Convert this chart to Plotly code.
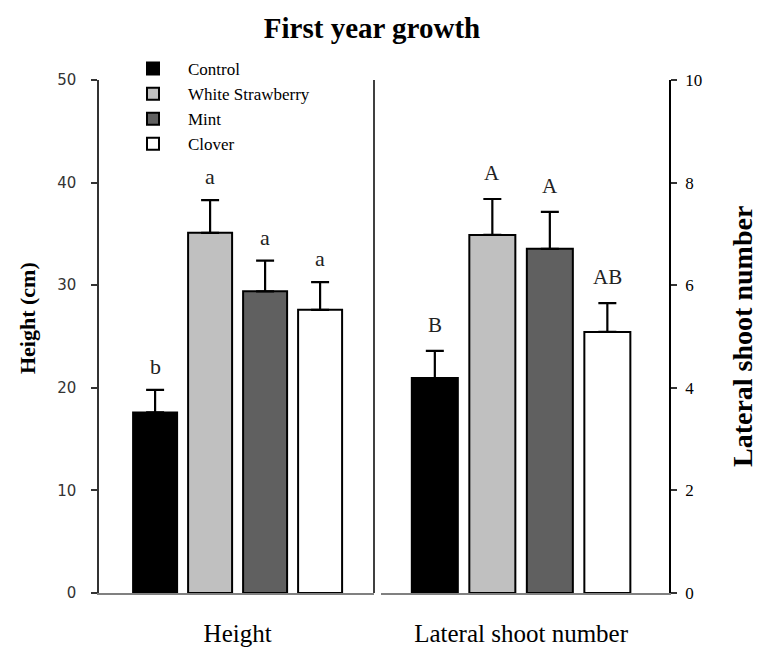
import plotly.graph_objects as go

# Treatments and their summary statistics (mean and standard error)
treatments = ["Control", "White Strawberry", "Mint", "Clover"]
height_mean = [17.6, 35.1, 29.4, 27.6]
height_se = [2.2, 3.2, 3.0, 2.7]
shoot_mean = [4.19, 6.98, 6.71, 5.09]
shoot_se = [0.53, 0.70, 0.72, 0.56]
height_letters = ["b", "a", "a", "a"]
shoot_letters = ["B", "A", "A", "AB"]
panel_labels = ["Height", "Lateral shoot number"]

fills = ["#000000", "#c0c0c0", "#606060", "#ffffff"]
SERIF = "Liberation Serif"
SANS = "DejaVu Sans"

fig = go.Figure()

for i, name in enumerate(treatments):
    common = dict(
        name=name,
        marker=dict(color=fills[i], line=dict(color="#000000", width=2)),
    )
    fig.add_trace(go.Bar(
        x=[panel_labels[0]], y=[height_mean[i]],
        error_y=dict(type="data", symmetric=False, array=[height_se[i]], arrayminus=[0],
                     color="#000000", thickness=2.2, width=9),
        xaxis="x", yaxis="y", showlegend=True, legendgroup=name, **common))
    fig.add_trace(go.Bar(
        x=[panel_labels[1]], y=[shoot_mean[i]],
        error_y=dict(type="data", symmetric=False, array=[shoot_se[i]], arrayminus=[0],
                     color="#000000", thickness=2.2, width=9),
        xaxis="x2", yaxis="y2", showlegend=False, legendgroup=name, **common))

# Significance letters above each error bar, placed at the grouped-bar offsets
bargap = 0.0
n = len(treatments)
slot = (1 - bargap) / n
annotations = []
for i in range(n):
    off = (i - (n - 1) / 2) * slot
    annotations.append(dict(
        x=off, y=height_mean[i] + height_se[i], xref="x", yref="y",
        text=height_letters[i], showarrow=False, yanchor="bottom", yshift=9,
        font=dict(family=SERIF, size=22, color="#222222")))
    annotations.append(dict(
        x=off, y=shoot_mean[i] + shoot_se[i], xref="x2", yref="y2",
        text=shoot_letters[i], showarrow=False, yanchor="bottom", yshift=12,
        font=dict(family=SERIF, size=21, color="#222222")))

# Axis titles
annotations.append(dict(
    text="<b>Height (cm)</b>", xref="paper", yref="paper", x=(27 - 99) / 570, y=0.536,
    textangle=-90, showarrow=False, xanchor="center", yanchor="middle",
    font=dict(family=SERIF, size=22, color="#000000")))
annotations.append(dict(
    text="<b>Lateral shoot number</b>", xref="paper", yref="paper", x=(742 - 99) / 570,
    y=0.499, textangle=-90, showarrow=False, xanchor="center", yanchor="middle",
    font=dict(family=SERIF, size=28, color="#000000")))

fig.update_layout(
    width=759, height=648,
    font=dict(family=SERIF, color="#000000"),
    margin=dict(l=99, r=90, t=80, b=55, autoexpand=False),
    paper_bgcolor="#ffffff", plot_bgcolor="#ffffff",
    barmode="group", bargap=bargap, bargroupgap=0.2,
    title=dict(text="<b>First year growth</b>", x=372 / 759, y=1 - 28 / 648,
               xanchor="center", yanchor="middle",
               font=dict(family=SERIF, size=29, color="#000000")),
    showlegend=True,
    legend=dict(x=(118 - 99) / 570, y=1 + (80 - 51) / 513, xanchor="left", yanchor="top",
                font=dict(family=SERIF, size=17, color="#000000"),
                tracegroupgap=0, itemwidth=60, bgcolor="rgba(0,0,0,0)"),
    xaxis=dict(domain=[0, 275 / 570], type="category", range=[-0.63, 0.62],
               showline=True, linecolor="#808080", linewidth=1.5, ticks="",
               showgrid=False, zeroline=False, ticklabelstandoff=17, automargin=False,
               tickfont=dict(family=SERIF, size=25, color="#000000")),
    xaxis2=dict(domain=[282 / 570, 1], type="category", range=[-0.609, 0.643],
                anchor="y2", showline=True, linecolor="#808080", linewidth=1.5, ticks="",
                showgrid=False, zeroline=False, ticklabelstandoff=17, automargin=False,
                tickfont=dict(family=SERIF, size=25, color="#000000")),
    yaxis=dict(range=[0, 50], dtick=10, anchor="x", showline=True, linecolor="#333333",
               linewidth=1.5, ticks="outside", ticklen=6, tickwidth=1.5, tickcolor="#333333",
               showgrid=False, zeroline=False, automargin=False, ticklabelstandoff=12,
               tickfont=dict(family=SANS, size=15, color="#333333")),
    yaxis2=dict(range=[0, 10], dtick=2, anchor="x2", side="right", showline=True,
                linecolor="#000000", linewidth=1.5, ticks="outside", ticklen=6, tickwidth=1.5,
                tickcolor="#333333", showgrid=False, zeroline=False, automargin=False,
                ticklabelstandoff=5,
                tickfont=dict(family=SERIF, size=17, color="#000000")),
    annotations=annotations,
    shapes=[dict(type="line", xref="x domain", yref="y domain", x0=1, x1=1, y0=0, y1=1,
                 line=dict(color="#000000", width=1.5))],
)

fig.write_html("out.html")
